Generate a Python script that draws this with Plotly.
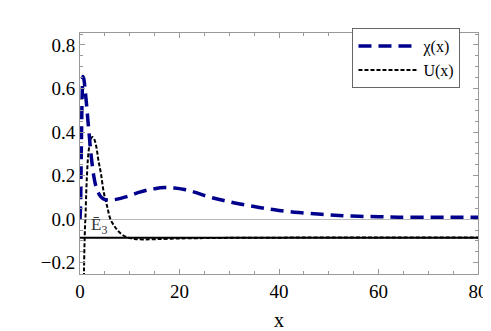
import plotly.graph_objects as go

# chi(x)
chi_x = [0.0, 0.1, 0.2, 0.3, 0.45, 0.6, 0.8, 1.0, 1.3, 1.6, 1.9, 2.3, 2.75, 3.2, 3.6,
         4.2, 4.8, 5.5, 6.5, 7.5, 9, 10.5, 12, 13.5, 15, 17, 19, 21, 23, 25.5, 28,
         30, 32.5, 35, 37.5, 40, 44, 48.5, 52, 56, 60, 64, 70, 75, 80]
chi_y = [0.0, 0.05, 0.2, 0.38, 0.58, 0.655, 0.64, 0.6, 0.53, 0.45, 0.375, 0.28, 0.2,
         0.15, 0.125, 0.102, 0.092, 0.088, 0.088, 0.092, 0.101, 0.112, 0.124, 0.133,
         0.14, 0.145, 0.143, 0.136, 0.124, 0.105, 0.09, 0.08, 0.068, 0.058, 0.048,
         0.04, 0.03, 0.022, 0.017, 0.013, 0.011, 0.009, 0.009, 0.009, 0.009]

# U(x)
u_x = [0.75, 0.8, 0.9, 1.0, 1.1, 1.25, 1.4, 1.6, 1.9, 2.2, 2.55, 2.9, 3.3, 3.7, 4.2,
       4.8, 5.5, 6.1, 7.0, 7.5, 8.5, 9.7, 11, 12.7, 15, 18, 22, 30, 40, 60, 80]
u_y = [-0.35, -0.24, -0.12, -0.04, 0.01, 0.12, 0.2, 0.28, 0.34, 0.37, 0.377, 0.365,
       0.33, 0.27, 0.21, 0.12, 0.055, 0.0, -0.035, -0.05, -0.072, -0.085, -0.091,
       -0.093, -0.092, -0.09, -0.088, -0.086, -0.085, -0.0845, -0.0845]

E3 = -0.085
x_span = [0, 80]

font = "Liberation Serif, Times New Roman, DejaVu Serif, serif"

fig = go.Figure()

fig.add_trace(go.Scatter(
    x=x_span, y=[E3, E3], mode="lines",
    line=dict(color="black", width=2), showlegend=False, hoverinfo="skip"
))
fig.add_trace(go.Scatter(
    x=u_x, y=u_y, mode="lines", name="U(x)", line_shape="spline",
    line=dict(color="black", width=2, dash="4px,2px")
))
fig.add_trace(go.Scatter(
    x=chi_x, y=chi_y, mode="lines", name="χ(x)", line_shape="spline",
    line=dict(color="#00008c", width=3.5, dash="13px,7px")
))

fig.add_annotation(
    x=1.8, y=E3, xref="x", yref="y", text="Ē<sub>3</sub>",
    showarrow=False, xanchor="left", yanchor="bottom", yshift=-1,
    font=dict(family=font, size=17, color="#333")
)

fig.update_layout(
    width=491, height=331,
    paper_bgcolor="white", plot_bgcolor="white",
    margin=dict(l=72, r=11, t=25, b=55),
    font=dict(family=font, size=19, color="black"),
    legend=dict(
        x=0.956, y=1.02, xanchor="right", yanchor="top",
        traceorder="reversed",
        bordercolor="#666", borderwidth=1, bgcolor="white",
        font=dict(family=font, size=16),
        itemwidth=60, tracegroupgap=0,
    ),
    xaxis=dict(
        range=[0, 80], dtick=20, tick0=0,
        showline=True, linecolor="#999", linewidth=1, mirror="ticks",
        ticks="inside", ticklen=5, tickcolor="#999",
        minor=dict(dtick=5, ticklen=3, tickcolor="#999", ticks="inside"),
        showgrid=False, zeroline=False,
        title=dict(text="x", font=dict(family=font, size=20), standoff=12),
    ),
    yaxis=dict(
        range=[-0.252, 0.855], dtick=0.2, tick0=0, tickformat=".1f",
        showline=True, linecolor="#999", linewidth=1, mirror="ticks",
        ticks="inside", ticklen=5, tickcolor="#999",
        minor=dict(dtick=0.05, ticklen=3, tickcolor="#999", ticks="inside"),
        showgrid=False,
        zeroline=True, zerolinecolor="#bbb", zerolinewidth=1,
    ),
)

fig.write_html("out.html")
